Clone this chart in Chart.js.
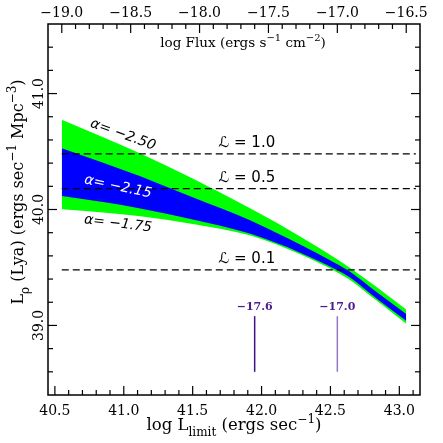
<!DOCTYPE html>
<html>
<head>
<meta charset="utf-8">
<script src="https://cdn.jsdelivr.net/npm/chart.js@4.4.0/dist/chart.umd.min.js"></script>
<style>
  html, body { margin: 0; padding: 0; background: #fff; }
  #wrap { width: 443px; height: 443px; }
</style>
</head>
<body>
<div id="wrap"><canvas id="lumChart" width="443" height="443"></canvas></div>
<script>
// log L_limit sample points along the bands
const logLimit = [40.55, 40.85, 41.12, 41.5, 41.92, 42.28, 42.54, 42.65, 42.83, 43.05];
// log luminosity density for the faint-end slopes
const alphaSteep = [40.774, 40.624, 40.483, 40.267, 40.008, 39.768, 39.577, 39.49, 39.336, 39.137];   // alpha = -2.50
const alphaMidHigh = [40.529, 40.404, 40.286, 40.105, 39.906, 39.698, 39.534, 39.457, 39.293, 39.098]; // alpha = -2.15 band
const alphaMidLow = [40.117, 40.064, 40.009, 39.914, 39.79, 39.628, 39.483, 39.407, 39.236, 39.04];
const alphaShallow = [40.002, 39.974, 39.942, 39.875, 39.775, 39.613, 39.464, 39.386, 39.219, 39.015]; // alpha = -1.75

// L* reference levels
const lumLevels = ['1.0', '0.5', '0.1'];
const lumLevelDensity = [40.48, 40.18, 39.48];
const levelSpan = [40.55, 43.12];

// flux limits marked at the bottom
const fluxMarks = [-17.6, -17.0];
const fluxOffset = 59.55;   // log L = log Flux + offset
const markSpan = [38.6, 39.08];

const yTickLabels = [39.0, 40.0, 41.0];

const GREEN = '#00ff00';
const BLUE = '#0000ff';
const SERIF = "'DejaVu Serif', 'Liberation Serif', serif";
const SANS = "'DejaVu Sans', 'Liberation Sans', sans-serif";

const pts = (xs, ys) => xs.map((x, i) => ({ x: x, y: ys[i] }));

const datasets = [];
// dashed L* lines (on top)
lumLevelDensity.forEach(v => {
    datasets.push({
        data: [{ x: levelSpan[0], y: v }, { x: levelSpan[1], y: v }],
        borderColor: '#000', borderWidth: 1.3, borderDash: [7, 4],
        pointRadius: 0, fill: false, order: 1
    });
});
// flux limit markers
fluxMarks.forEach((f, i) => {
    datasets.push({
        data: [{ x: f + fluxOffset, y: markSpan[0] }, { x: f + fluxOffset, y: markSpan[1] }],
        borderColor: i === 0 ? '#3c1480' : '#9479c4', borderWidth: 1.5,
        pointRadius: 0, fill: false, order: 1
    });
});
const base = datasets.length;
// blue band: alpha = -2.15 range
datasets.push({
    data: pts(logLimit, alphaMidHigh), borderWidth: 0, borderColor: BLUE,
    backgroundColor: BLUE, pointRadius: 0, fill: base + 1, order: 2, cubicInterpolationMode: 'monotone'
});
datasets.push({
    data: pts(logLimit, alphaMidLow), borderWidth: 0, borderColor: BLUE,
    pointRadius: 0, fill: false, order: 2, cubicInterpolationMode: 'monotone'
});
// green band: alpha = -2.50 .. -1.75
datasets.push({
    data: pts(logLimit, alphaSteep), borderWidth: 0, borderColor: GREEN,
    backgroundColor: GREEN, pointRadius: 0, fill: base + 3, order: 3, cubicInterpolationMode: 'monotone'
});
datasets.push({
    data: pts(logLimit, alphaShallow), borderWidth: 0, borderColor: GREEN,
    pointRadius: 0, fill: false, order: 3, cubicInterpolationMode: 'monotone'
});

// text with sub/superscripts, centred on (x, y) baseline
function drawRich(ctx, parts, x, y, size, family, rot) {
    const small = Math.round(size * 0.75);
    const fontOf = p => (p.sub || p.sup ? small : size) + 'px ' + family;
    ctx.save();
    ctx.translate(x, y);
    ctx.rotate(rot || 0);
    let total = 0;
    parts.forEach(p => { ctx.font = fontOf(p); total += ctx.measureText(p.t).width; });
    let cx = -total / 2;
    ctx.textAlign = 'left';
    ctx.textBaseline = 'alphabetic';
    parts.forEach(p => {
        ctx.font = fontOf(p);
        const dy = p.sub ? size * 0.35 : (p.sup ? -size * 0.42 : 0);
        ctx.fillText(p.t, cx, dy);
        cx += ctx.measureText(p.t).width;
    });
    ctx.restore();
}

const decorations = {
    id: 'decorations',
    afterDraw(chart) {
        const ctx = chart.ctx;
        const ca = chart.chartArea;
        const sx = chart.scales.x, sx2 = chart.scales.x2, sy = chart.scales.y;
        ctx.save();
        ctx.strokeStyle = '#000';
        ctx.lineWidth = 1.5;
        ctx.strokeRect(ca.left, ca.top, ca.right - ca.left, ca.bottom - ca.top);

        ctx.lineWidth = 1.2;
        const seg = (x1, y1, x2, y2) => { ctx.beginPath(); ctx.moveTo(x1, y1); ctx.lineTo(x2, y2); ctx.stroke(); };
        // bottom ticks: log L, minor 0.1
        for (let k = 405; k <= 431; k++) {
            const px = sx.getPixelForValue(k / 10);
            seg(px, ca.bottom, px, ca.bottom - (k % 5 === 0 ? 9 : 5));
        }
        // top ticks: log Flux
        for (let k = -190; k <= -165; k++) {
            const px = sx2.getPixelForValue(k / 10);
            seg(px, ca.top, px, ca.top + (k % 5 === 0 ? 9 : 5));
        }
        // left/right ticks, minor 0.2
        for (let k = 193; k <= 207; k++) {
            const py = sy.getPixelForValue(k / 5);
            const len = k % 5 === 0 ? 9 : 5;
            seg(ca.left, py, ca.left + len, py);
            seg(ca.right, py, ca.right - len, py);
        }

        // rotated y tick labels
        ctx.fillStyle = '#000';
        ctx.font = '14px ' + SERIF;
        ctx.textAlign = 'center';
        ctx.textBaseline = 'middle';
        yTickLabels.forEach(v => {
            ctx.save();
            ctx.translate(39, sy.getPixelForValue(v));
            ctx.rotate(-Math.PI / 2);
            ctx.fillText(v.toFixed(1), 0, 0);
            ctx.restore();
        });

        // axis titles
        drawRich(ctx, [{ t: 'log L' }, { t: 'limit', sub: true }, { t: ' (ergs sec' }, { t: '−1', sup: true }, { t: ')' }],
            234, 430, 16.5, SERIF, 0);
        drawRich(ctx, [{ t: 'L' }, { t: 'ρ', sub: true }, { t: ' (Lya) (ergs sec' }, { t: '−1', sup: true }, { t: ' Mpc' }, { t: '−3', sup: true }, { t: ')' }],
            23, 192, 16, SERIF, -Math.PI / 2);
        drawRich(ctx, [{ t: 'log Flux (ergs s' }, { t: '−1', sup: true }, { t: ' cm' }, { t: '−2', sup: true }, { t: ')' }],
            243, 47, 13.5, SERIF, 0);

        // slope labels
        const slope = (txt, xv, yv, deg, color) => {
            ctx.save();
            ctx.translate(sx.getPixelForValue(xv), sy.getPixelForValue(yv));
            ctx.rotate(deg * Math.PI / 180);
            ctx.fillStyle = color;
            ctx.font = 'italic 14px ' + SANS;
            ctx.textAlign = 'center';
            ctx.textBaseline = 'middle';
            ctx.fillText(txt, 0, 0);
            ctx.restore();
        };
        slope('α= −2.50', 40.994, 40.644, 20, '#000');
        slope('α= −2.15', 40.958, 40.195, 12, '#fff');
        slope('α= −1.75', 40.958, 39.876, 7, '#000');

        // L* labels
        ctx.fillStyle = '#000';
        ctx.font = '15px ' + SANS;
        ctx.textAlign = 'center';
        ctx.textBaseline = 'alphabetic';
        lumLevels.forEach((lab, i) => {
            ctx.fillText('ℒ = ' + lab, sx.getPixelForValue(41.893), sy.getPixelForValue(lumLevelDensity[i]) - 7);
        });

        // flux mark labels
        ctx.fillStyle = '#4b1c8c';
        ctx.font = 'bold 11px ' + SERIF;
        fluxMarks.forEach(f => {
            ctx.fillText('−' + Math.abs(f).toFixed(1), sx.getPixelForValue(f + fluxOffset), sy.getPixelForValue(markSpan[1]) - 6);
        });
        ctx.restore();
    }
};

new Chart(document.getElementById('lumChart').getContext('2d'), {
    type: 'line',
    data: { datasets: datasets },
    options: {
        responsive: false,
        animation: false,
        devicePixelRatio: 1,
        layout: { padding: { left: 0, top: 0, right: 23, bottom: 0 }, autoPadding: false },
        plugins: { legend: { display: false }, tooltip: { enabled: false } },
        elements: { line: { tension: 0 } },
        scales: {
            x: {
                type: 'linear', position: 'bottom', min: 40.45, max: 43.15,
                grid: { display: false, drawTicks: false }, border: { display: false },
                ticks: {
                    stepSize: 0.5, includeBounds: false, autoSkip: false, maxRotation: 0, padding: 8,
                    color: '#000', font: { family: SERIF, size: 14 },
                    callback: v => v.toFixed(1)
                },
                afterFit: s => { s.height = 48; }
            },
            x2: {
                type: 'linear', position: 'top', min: 40.45 - fluxOffset, max: 43.15 - fluxOffset,
                grid: { display: false, drawTicks: false }, border: { display: false },
                ticks: {
                    stepSize: 0.5, includeBounds: false, autoSkip: false, maxRotation: 0, padding: 2,
                    color: '#000', font: { family: SERIF, size: 14 },
                    callback: v => '−' + Math.abs(v).toFixed(1)
                },
                afterFit: s => { s.height = 24; }
            },
            y: {
                type: 'linear', min: 38.4, max: 41.6,
                grid: { display: false, drawTicks: false }, border: { display: false },
                ticks: { display: false },
                afterFit: s => { s.width = 48; }
            }
        }
    },
    plugins: [decorations]
});
</script>
</body>
</html>
